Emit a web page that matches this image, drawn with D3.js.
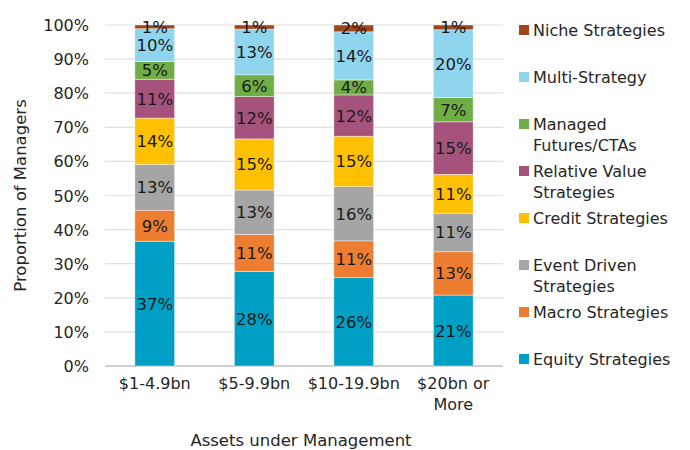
<!DOCTYPE html>
<meta charset="utf-8">
<head>
<title>Managers by AUM</title>
<script src="https://d3js.org/d3.v7.min.js"></script>
<style>
  body { margin: 0; background: #fff; }
  text { font-family: "DejaVu Sans", sans-serif; fill: #262626; }
</style>
</head>
<body>
<div id="chart"></div>
<script>
    // data (per cent of managers)
    let aumGroups = ["$1-4.9bn", "$5-9.9bn", "$10-19.9bn", "$20bn or More"];
    let strategies = ["Equity Strategies", "Macro Strategies", "Event Driven Strategies", "Credit Strategies",
                      "Relative Value Strategies", "Managed Futures/CTAs", "Multi-Strategy", "Niche Strategies"];
    let equity   = [36.6, 27.7, 25.9, 20.8];
    let macro    = [9.1, 10.9, 10.8, 12.7];
    let event    = [13.4, 13.0, 15.9, 11.3];
    let credit   = [13.6, 15.0, 14.8, 11.4];
    let relValue = [11.4, 12.4, 12.1, 15.4];
    let managed  = [5.2, 6.4, 4.4, 7.1];
    let multi    = [9.6, 13.4, 14.1, 19.9];
    let niche    = [1.1, 1.2, 2.0, 1.4];
    let yTicks   = [0, 10, 20, 30, 40, 50, 60, 70, 80, 90, 100];

    let colors = ["#00A0C6", "#ED7D31", "#A5A5A5", "#FFC000", "#A5537C", "#70AD47", "#8FD5EE", "#A0461E"];
    let legendLines = [["Equity Strategies"], ["Macro Strategies"], ["Event Driven", "Strategies"], ["Credit Strategies"],
                       ["Relative Value", "Strategies"], ["Managed", "Futures/CTAs"], ["Multi-Strategy"], ["Niche Strategies"]];

    let series = [equity, macro, event, credit, relValue, managed, multi, niche];
    let table = aumGroups.map((g, i) => {
        let row = {group: g};
        strategies.forEach((s, k) => row[s] = series[k][i]);
        return row;
    });
    let stacked = d3.stack().keys(strategies)(table);

    let w = 690, h = 450;
    let plotLeft = 105, plotRight = 503, plotTop = 25, plotBottom = 366;

    let svg = d3.select("#chart").append("svg")
                .attr("width", w)
                .attr("height", h);

    let x = d3.scaleBand().domain(aumGroups).range([plotLeft, plotRight]).paddingInner(0.6).paddingOuter(0.3);
    let y = d3.scaleLinear().domain([0, 100]).range([plotBottom, plotTop]);

    //gridlines
    svg.append("g")
       .selectAll("line")
       .data(yTicks)
       .enter()
       .append("line")
       .attr("x1", plotLeft)
       .attr("x2", plotRight)
       .attr("y1", (d) => y(d))
       .attr("y2", (d) => y(d))
       .style("stroke", (d) => d == 0 ? "#d0d0d0" : "#e0e0e0")
       .style("stroke-width", (d) => d == 0 ? 2 : 1.2);

    //y tick labels
    svg.append("g")
       .selectAll("text")
       .data(yTicks)
       .enter()
       .append("text")
       .attr("x", 89)
       .attr("y", (d) => y(d) + 6)
       .attr("text-anchor", "end")
       .style("font-size", "16px")
       .text((d) => d + "%");

    //bars
    let layers = svg.append("g")
       .selectAll("g")
       .data(stacked)
       .enter()
       .append("g")
       .style("fill", (d, i) => colors[i]);

    layers.selectAll("rect")
       .data((d) => d)
       .enter()
       .append("rect")
       .attr("x", (d) => x(d.data.group))
       .attr("y", (d) => y(d[1]))
       .attr("width", x.bandwidth())
       .attr("height", (d) => y(d[0]) - y(d[1]))
       .style("stroke", "#ffffff")
       .style("stroke-opacity", 0.6)
       .style("stroke-width", 0.7);

    //value labels
    layers.selectAll("text")
       .data((d) => d)
       .enter()
       .append("text")
       .attr("x", (d) => x(d.data.group) + x.bandwidth() / 2)
       .attr("y", (d) => (y(d[0]) + y(d[1])) / 2 + 6)
       .attr("text-anchor", "middle")
       .style("font-size", "16.5px")
       .style("fill", "#1a1a1a")
       .text((d) => Math.round(d[1] - d[0]) + "%");

    //x tick labels
    let xl = svg.append("g")
       .selectAll("text")
       .data(aumGroups)
       .enter()
       .append("text")
       .attr("x", (d) => x(d) + x.bandwidth() / 2)
       .attr("y", 389)
       .attr("text-anchor", "middle")
       .style("font-size", "16px");
    xl.each(function(d) {
        let parts = d == "$20bn or More" ? ["$20bn or", "More"] : [d];
        d3.select(this).selectAll("tspan")
          .data(parts)
          .enter()
          .append("tspan")
          .attr("x", x(d) + x.bandwidth() / 2)
          .attr("dy", (p, i) => i == 0 ? 0 : 21)
          .text((p) => p);
    });

    //axis titles
    svg.append("text")
       .attr("transform", "translate(26," + (y(50)) + ") rotate(-90)")
       .attr("text-anchor", "middle")
       .style("font-size", "16.5px")
       .text("Proportion of Managers");

    svg.append("text")
       .attr("x", 301)
       .attr("y", 446)
       .attr("text-anchor", "middle")
       .style("font-size", "16.5px")
       .text("Assets under Management");

    //legend, niche on top
    let legendOrder = d3.range(strategies.length).reverse();
    let lg = svg.append("g")
       .selectAll("g")
       .data(legendOrder)
       .enter()
       .append("g")
       .attr("transform", (d, i) => "translate(519," + (30 + i * 47) + ")");

    lg.append("rect")
      .attr("x", 0)
      .attr("y", -5)
      .attr("width", 10)
      .attr("height", 10)
      .style("fill", (d) => colors[d]);

    lg.append("text")
      .attr("x", 14)
      .attr("y", 6)
      .style("font-size", "16px")
      .selectAll("tspan")
      .data((d) => legendLines[d])
      .enter()
      .append("tspan")
      .attr("x", 14)
      .attr("dy", (p, i) => i == 0 ? 0 : 21)
      .text((p) => p);
</script>
</body>
